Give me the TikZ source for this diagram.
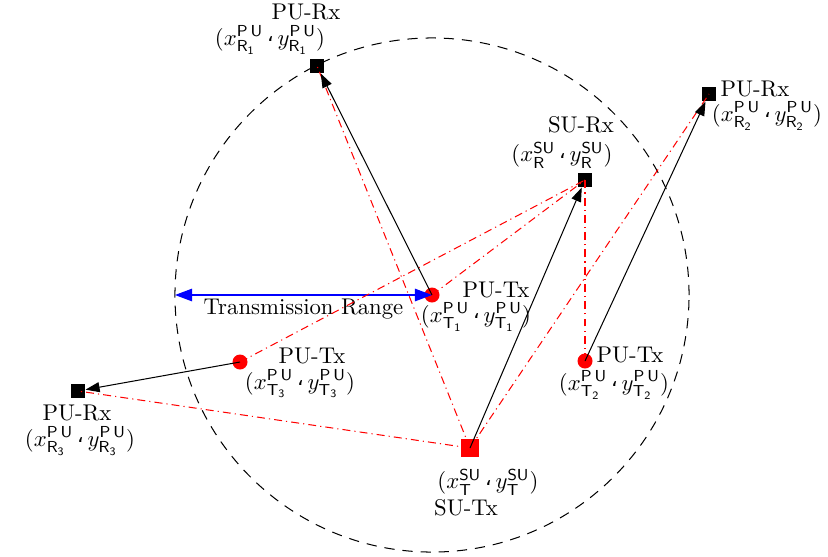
\documentclass[tikz,border=0pt]{standalone}
\usepackage{fontspec}
\newfontfamily\arabicfont[Script=Arabic]{DejaVu Sans}
\usetikzlibrary{arrows.meta}
\newcommand{\csep}{\mskip3mu\mbox{\raisebox{0.35ex}{\arabicfont\small ،}}\mskip3mu}
\newcommand{\crd}[2]{$(x^{#1}_{\mathsf{#2}}\csep y^{#1}_{\mathsf{#2}})$}
\newcommand{\PU}{\mathsf{P}\,\mathsf{U}}
\newcommand{\SU}{\mathsf{SU}}
\begin{document}
\begin{tikzpicture}[x=0.44pt,y=-0.44pt,
  rx/.style={fill=black, minimum size=6.2pt, inner sep=0pt},
  tx/.style={circle, fill=red, minimum size=6.6pt, inner sep=0pt},
  stx/.style={fill=red, minimum size=7.6pt, inner sep=0pt},
  lbl/.style={inner sep=0pt},
  link/.style={-{Triangle[length=6.2pt,width=4.4pt]}, line width=0.45pt},
  rangearrow/.style={{Triangle[length=7.5pt,width=5.5pt]}-{Triangle[length=7.5pt,width=5.5pt]}, blue, line width=0.5pt},
  intf/.style={red, line width=0.45pt, dash pattern=on 3.5pt off 1.8pt on 0.5pt off 1.8pt},
  zone/.style={line width=0.45pt, dash pattern=on 4.5pt off 3.5pt}
]
\useasboundingbox (0,0) rectangle (828,556);
% nodes
\node[rx]  (R1) at (317,66) {};
\node[tx]  (T1) at (432,295) {};
\node[rx]  (SR) at (585,180) {};
\node[rx]  (R2) at (709,94) {};
\node[tx]  (T2) at (585,361) {};
\node[tx]  (T3) at (240,362) {};
\node[rx]  (R3) at (78,391) {};
\node[stx] (ST) at (470,448) {};
\coordinate (E) at (175,295);
% coverage circle
\draw[zone] (T1.center) circle[radius=113.1pt];
% labels
\node[lbl] (lR1) at (306,12) {PU-Rx};
\node[lbl] (cR1) at (270,40) {\crd{\PU}{R_1}};
\node[lbl] (lSR) at (581,125) {SU-Rx};
\node[lbl] (cSR) at (562,155) {\crd{\SU}{R}};
\node[lbl] (lT1) at (496,290) {PU-Tx};
\node[lbl] (cT1) at (476,317) {\crd{\PU}{T_1}};
\node[lbl] (lR3) at (77,413) {PU-Rx};
\node[lbl] (cR3) at (80,441) {\crd{\PU}{R_3}};
\node[lbl] (cST) at (488,482) {\crd{\SU}{T}};
\node[lbl] (lST) at (466,508) {SU-Tx};
\node[lbl] (lT2) at (630,355) {PU-Tx};
\node[lbl] (cT2) at (614,385) {\crd{\PU}{T_2}};
\node[lbl] (lR2) at (755,89) {PU-Rx};
\node[lbl] (cR2) at (767,116) {\crd{\PU}{R_2}};
\node[lbl] (lT3) at (312,356) {PU-Tx};
\node[lbl] (cT3) at (300,384) {\crd{\PU}{T_3}};
% transmission range
\draw[rangearrow] (E) -- node[below=1.5pt, black, inner sep=0pt] (lTR) {Transmission Range} (T1.center);
% interference links
\draw[intf] (ST.center) -- (R1.center);
\draw[intf] (ST.center) -- (R2.center);
\draw[intf] (ST.center) -- (R3.center);
\draw[intf] (T1.center) -- (SR.center);
\draw[intf] (T3.center) -- (SR.center);
\draw[intf] (T2.center) -- (SR.center);
% communication links
\draw[link] (T1.center) -- (R1);
\draw[link] (T2.center) -- (R2);
\draw[link] (T3.center) -- (R3);
\draw[link] (ST.center) -- (SR);
\end{tikzpicture}
\end{document}
